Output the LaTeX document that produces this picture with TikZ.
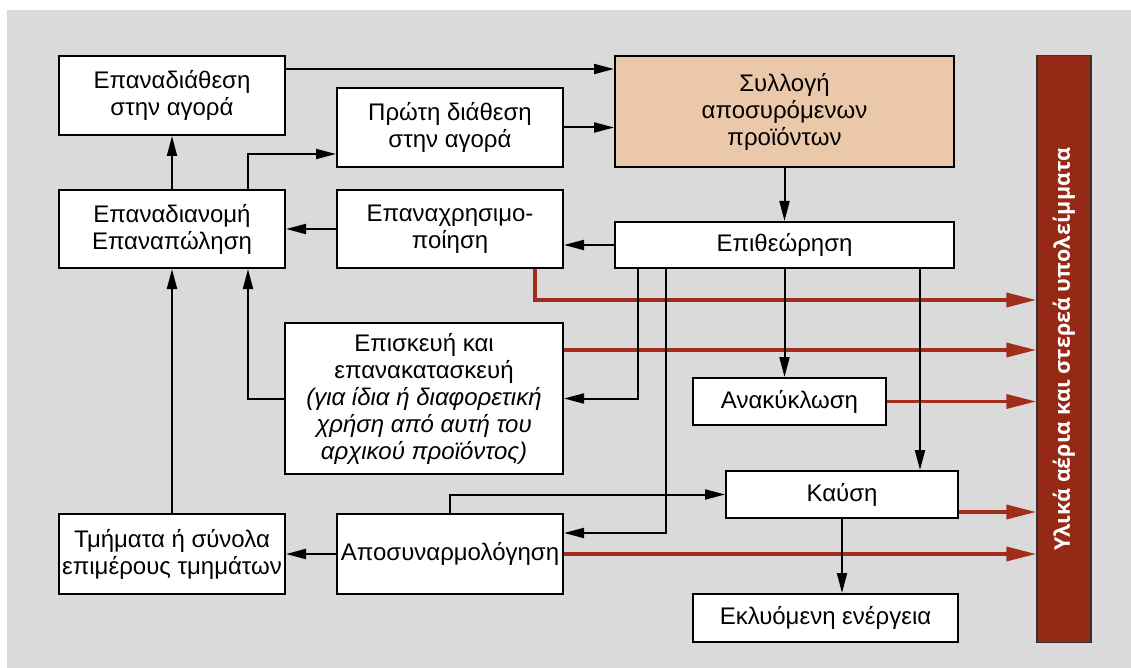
\documentclass[tikz,border=0pt]{standalone}
\usepackage{fontspec}
\setmainfont{Liberation Sans}
\newfontfamily\barfont{Open Sans}
\usetikzlibrary{arrows.meta}
\definecolor{panelgray}{HTML}{DADADA}
\definecolor{collectfill}{HTML}{EAC8A9}
\definecolor{wastered}{HTML}{962915}
\definecolor{flowred}{HTML}{A02E1A}
\begin{document}
\begin{tikzpicture}[x=1pt,y=-1pt,
  box/.style={draw=black, line width=2pt, fill=white, align=center, inner sep=0pt,
    font=\fontsize{24}{27}\selectfont},
  arr/.style={line width=2pt, -{Triangle[length=20pt,width=10pt]}},
  redarr/.style={draw=flowred, line width=3.5pt, -{Triangle[length=30pt,width=14pt]}},
  barbox/.style={draw=black!80, line width=1.5pt, fill=wastered, inner sep=0pt},
  bartext/.style={text=white, font=\barfont\bfseries\fontsize{21.5}{25}\selectfont}
]
\path[use as bounding box] (0,0) rectangle (1131,668);
\fill[panelgray] (7,10) rectangle (1131,668);

% boxes
\node[box, minimum width=226pt, minimum height=79pt] (ead) at (172,95.5) {Επαναδιάθεση\\στην αγορά};
\node[box, minimum width=226pt, minimum height=79pt] (proti) at (450,127.5) {Πρώτη διάθεση\\στην αγορά};
\node[box, fill=collectfill, minimum width=339pt, minimum height=111pt] (syl) at (784.5,111.5) {Συλλογή\\αποσυρόμενων\\προϊόντων};
\node[box, minimum width=226pt, minimum height=78pt] (eadn) at (172,229) {Επαναδιανομή\\Επαναπώληση};
\node[box, minimum width=226pt, minimum height=78pt] (epx) at (450,229) {Επαναχρησιμο-\\ποίηση};
\node[box, minimum width=339pt, minimum height=46pt] (epith) at (784.5,245) {Επιθεώρηση};
\node[box, minimum width=278pt, minimum height=151pt] (episk) at (424,398.5)
  {Επισκευή και\\επανακατασκευή\\\itshape (για ίδια ή διαφορετική\\\itshape χρήση από αυτή του\\\itshape αρχικού προϊόντος)};
\node[box, minimum width=193pt, minimum height=47pt] (anak) at (789.5,401.5) {Ανακύκλωση};
\node[box, minimum width=232pt, minimum height=47pt] (kaus) at (842,494.5) {Καύση};
\node[box, minimum width=226pt, minimum height=80pt] (tmim) at (172,554) {Τμήματα ή σύνολα\\επιμέρους τμημάτων};
\node[box, minimum width=226pt, minimum height=80pt] (apos) at (450,554) {Αποσυναρμολόγηση};
\node[box, minimum width=265pt, minimum height=48pt] (ekl) at (825.5,618) {Εκλυόμενη ενέργεια};

% waste column
\node[barbox, minimum width=54pt, minimum height=587pt] (bar) at (1064,349) {};
\node[bartext, rotate=90] (bartxt) at (bar.center) {Υλικά αέρια και στερεά υπολείμματα};

% flows of residues
\coordinate (r1) at ([xshift=-29pt]epx.south east);
\coordinate (r1b) at ([yshift=-31pt]r1);
\draw[redarr] (r1) -- (r1b) -- (r1b -| bar.west);
\coordinate (r2) at ([yshift=-28pt]episk.north east);
\draw[redarr] (r2) -- (r2 -| bar.west);
\draw[redarr] (anak.east) -- (anak.east -| bar.west);
\coordinate (r4) at ([yshift=7pt]kaus.south east);
\draw[redarr] (r4) -- (r4 -| bar.west);
\draw[redarr] (apos.east) -- (apos.east -| bar.west);

% product flows
\draw[arr] ([yshift=-14pt]ead.north east) -- ([yshift=-14pt]syl.north west);
\draw[arr] (proti.east) -- (proti.east -| syl.west);
\draw[arr] (syl.south) -- (epith.north);
\draw[arr] (eadn.north) -- (ead.south);
\draw[arr] ([xshift=-38pt]eadn.north east) |- ([yshift=14pt]proti.south west);
\draw[arr] (epx.west) -- (eadn.east);
\draw[arr] (epith.west) -- (epith.west -| epx.east);
\draw[arr] ([xshift=24pt]epith.south west) |- (episk.east);
\draw[arr] ([xshift=52pt]epith.south west) |- ([yshift=21pt]apos.east);
\draw[arr] (epith.south) -- (epith.south |- anak.north);
\coordinate (k1) at ([xshift=-35pt]epith.south east);
\draw[arr] (k1) -- (k1 |- kaus.north);
\draw[arr] (apos.north) |- (kaus.west);
\draw[arr] (kaus.south) -- (kaus.south |- ekl.north);
\draw[arr] (apos.west) -- (tmim.east);
\draw[arr] (tmim.north) -- (eadn.south);
\draw[arr] (episk.west) -| ([xshift=-38pt]eadn.south east);
\end{tikzpicture}
\end{document}
